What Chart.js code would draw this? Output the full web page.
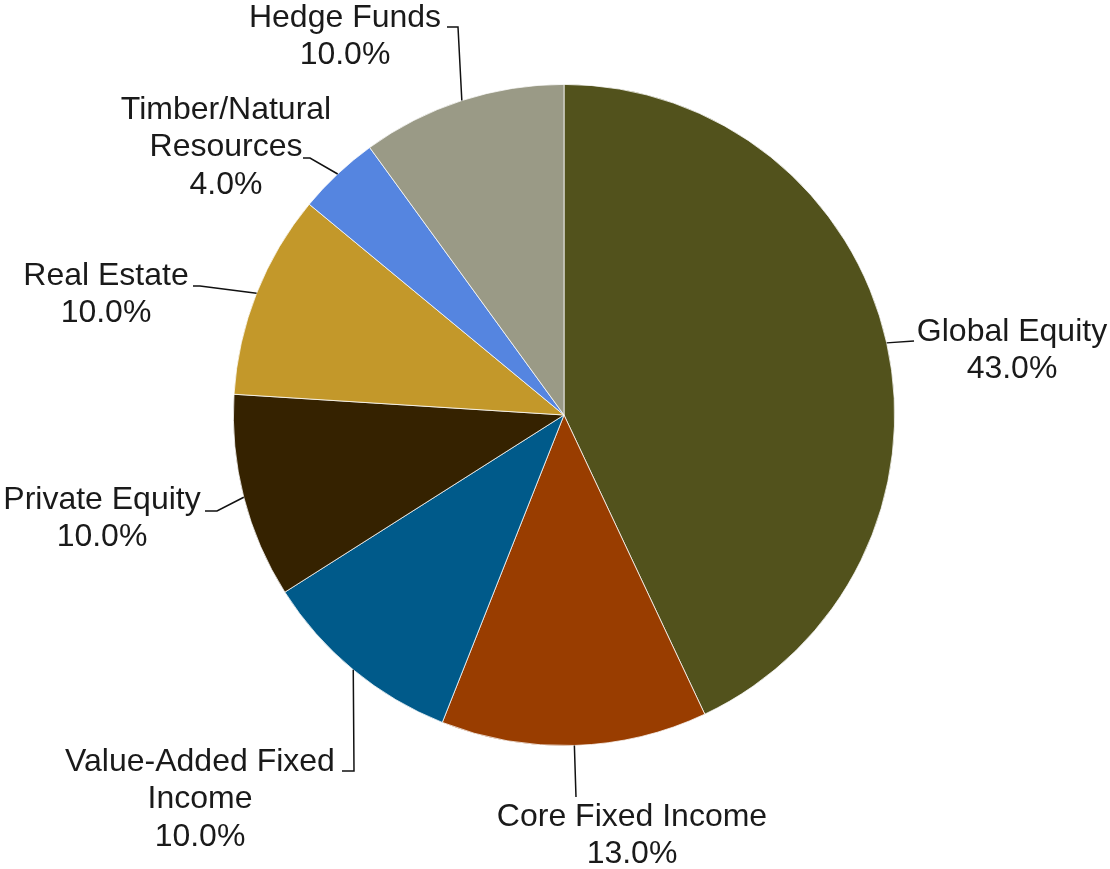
<!DOCTYPE html>
<html>
<head>
<meta charset="utf-8">
<script src="https://cdn.jsdelivr.net/npm/chart.js@4/dist/chart.umd.min.js"></script>
<style>
html,body{margin:0;padding:0;background:#fff;}
#wrap{width:1110px;height:869px;position:relative;}
</style>
</head>
<body>
<div id="wrap"><canvas id="c" width="1110" height="869"></canvas></div>
<script>
const categories = ["Global Equity","Core Fixed Income","Value-Added Fixed Income","Private Equity","Real Estate","Timber/Natural Resources","Hedge Funds"];
const labelLines = [["Global Equity"],["Core Fixed Income"],["Value-Added Fixed","Income"],["Private Equity"],["Real Estate"],["Timber/Natural","Resources"],["Hedge Funds"]];
const values = [43.0, 13.0, 10.0, 10.0, 10.0, 4.0, 10.0];
const colors = ["#52521C","#993D00","#005A8A","#352200","#C3982A","#5585E0","#9A9A86"];

// leader/label layout (elbow, end of leader, text centre x, first-line centre y)
const labelLayout = [
  {elbow:[914,341], end:[914,341], tx:1012, ty:332},
  {elbow:[576,797], end:[576,797], tx:632, ty:817},
  {elbow:[354,771], end:[342,771], tx:200, ty:762},
  {elbow:[217,511], end:[205,511], tx:102, ty:500},
  {elbow:[200,286], end:[193,286], tx:106, ty:276},
  {elbow:[310,158], end:[303,158], tx:226, ty:110},
  {elbow:[458,27],  end:[447,27],  tx:345, ty:18}
];

const labelPlugin = {
  id:'outLabels',
  afterDatasetsDraw(chart){
    const ctx = chart.ctx;
    const meta = chart.getDatasetMeta(0);
    const total = values.reduce((a,b)=>a+b,0);
    ctx.save();
    meta.data.forEach((arc,i)=>{
      const p = arc.getProps(['x','y','startAngle','endAngle','outerRadius'],true);
      const mid = (p.startAngle+p.endAngle)/2;
      const sx = p.x + Math.cos(mid)*p.outerRadius;
      const sy = p.y + Math.sin(mid)*p.outerRadius;
      const L = labelLayout[i];
      ctx.strokeStyle = '#111';
      ctx.lineWidth = 1.5;
      ctx.beginPath();
      ctx.moveTo(sx,sy);
      ctx.lineTo(L.elbow[0],L.elbow[1]);
      ctx.lineTo(L.end[0],L.end[1]);
      ctx.stroke();
      ctx.fillStyle = '#1a1a1a';
      ctx.font = '32px "Liberation Sans", Arial, sans-serif';
      ctx.textAlign = 'center';
      ctx.textBaseline = 'middle';
      const lines = labelLines[i].concat([(values[i]/total*100).toFixed(1)+'%']);
      lines.forEach((t,k)=>ctx.fillText(t, L.tx, L.ty + k*37.5));
    });
    ctx.restore();
  }
};

new Chart(document.getElementById('c'),{
  type:'pie',
  data:{labels:categories,datasets:[{data:values,backgroundColor:colors,borderColor:'#ffffff',borderWidth:0.75}]},
  options:{
    responsive:false,
    animation:false,
    layout:{padding:{left:233,right:215,top:84,bottom:123}},
    plugins:{legend:{display:false},tooltip:{enabled:false}}
  },
  plugins:[labelPlugin]
});
</script>
</body>
</html>
